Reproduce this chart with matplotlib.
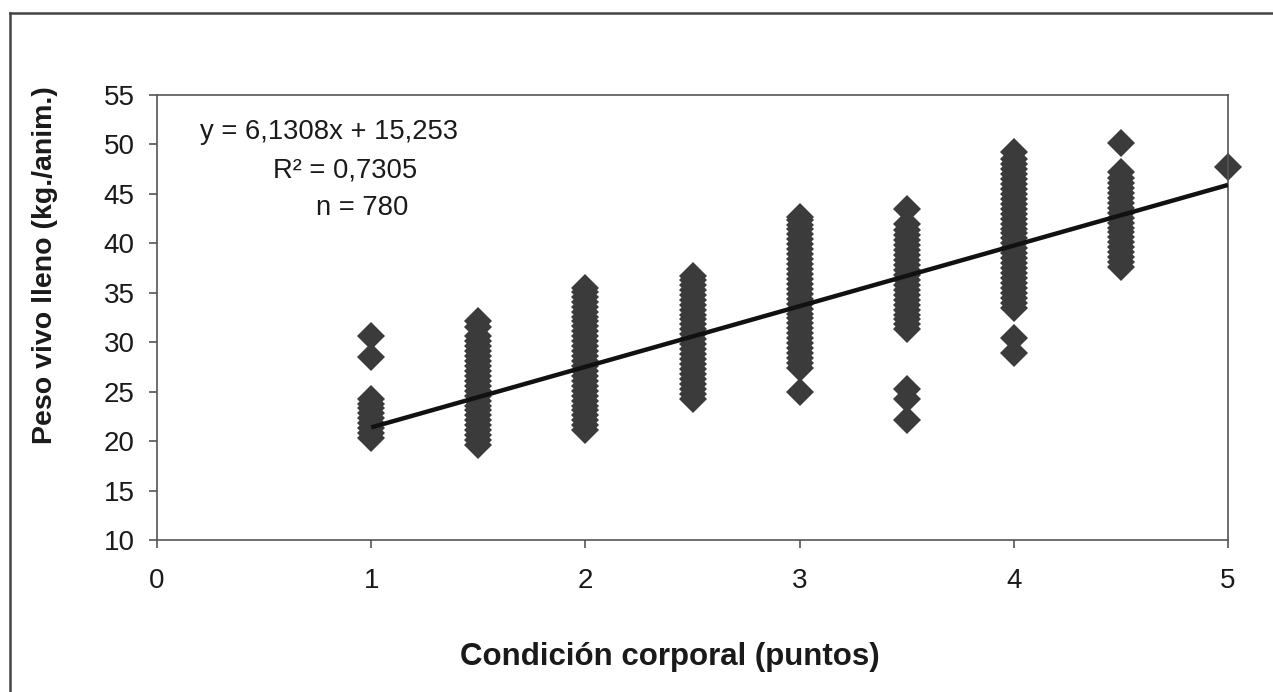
import numpy as np
import matplotlib
matplotlib.use("Agg")
import matplotlib.pyplot as plt
from matplotlib.lines import Line2D

plt.rcParams['font.family'] = ['Liberation Sans', 'DejaVu Sans']

# condición corporal groups and the peso vivo readings in each
peso_1 = [20.3, 20.8, 21.3, 21.8, 22.3, 22.8, 23.3, 23.8, 24.3, 28.5, 30.6]
peso_15 = [19.6, 20.1, 20.6, 21.1, 21.6, 22.1, 22.6, 23.1, 23.6, 24.1, 24.6, 25.1,
           25.6, 26.1, 26.6, 27.1, 27.6, 28.1, 28.6, 29.1, 29.6, 30.1, 30.6, 31.5, 32.1]
peso_2 = [21.1, 21.6, 22.1, 22.6, 23.1, 23.6, 24.1, 24.6, 25.1, 25.6, 26.1, 26.6,
          27.1, 27.6, 28.1, 28.6, 29.1, 29.6, 30.1, 30.6, 31.1, 31.6, 32.1, 32.6,
          33.1, 33.6, 34.1, 34.6, 35.1, 35.5]
peso_25 = [24.3, 24.8, 25.3, 25.8, 26.3, 26.8, 27.3, 27.8, 28.3, 28.8, 29.3, 29.8,
           30.3, 30.8, 31.3, 31.8, 32.3, 32.8, 33.3, 33.8, 34.3, 34.8, 35.3, 35.8,
           36.3, 36.7]
peso_3 = [25.0, 27.4, 27.9, 28.4, 28.9, 29.4, 29.9, 30.4, 30.9, 31.4, 31.9, 32.4,
          32.9, 33.4, 33.9, 34.4, 34.9, 35.4, 35.9, 36.4, 36.9, 37.4, 37.9, 38.4,
          38.9, 39.4, 39.9, 40.4, 40.9, 41.4, 41.9, 42.4, 42.7]
peso_35 = [22.1, 24.3, 25.3, 31.3, 31.8, 32.3, 32.8, 33.3, 33.8, 34.3, 34.8, 35.3,
           35.8, 36.3, 36.8, 37.3, 37.8, 38.3, 38.8, 39.3, 39.8, 40.3, 40.8, 41.3,
           42.0, 43.5]
peso_4 = [28.9, 30.4, 33.5, 34.0, 34.5, 35.0, 35.5, 36.0, 36.5, 37.0, 37.5, 38.0,
          38.5, 39.0, 39.5, 40.0, 40.5, 41.0, 41.5, 42.0, 42.5, 43.0, 43.5, 44.0,
          44.5, 45.0, 45.5, 46.0, 46.5, 47.0, 47.5, 48.0, 48.5, 49.2]
peso_45 = [37.6, 38.1, 38.6, 39.1, 39.6, 40.1, 40.6, 41.1, 41.6, 42.1, 42.6, 43.1,
           43.6, 44.1, 44.6, 45.1, 45.6, 46.1, 46.6, 47.2, 50.1]
peso_5 = [47.7]

condicion = [1, 1.5, 2, 2.5, 3, 3.5, 4, 4.5, 5]
grupos = [peso_1, peso_15, peso_2, peso_25, peso_3, peso_35, peso_4, peso_45, peso_5]

pendiente, intercepto = 6.1308, 15.253

fig = plt.figure(figsize=(12.73, 6.92), dpi=100)
ax = fig.add_axes([157 / 1273, 1 - 540 / 692, (1228 - 157) / 1273, (540 - 95) / 692])

xs = np.concatenate([[c] * len(g) for c, g in zip(condicion, grupos)])
ys = np.concatenate(grupos)
ax.plot(xs, ys, linestyle='none', marker='D', markersize=14.5,
        color='#3b3b3b', markeredgewidth=0, clip_on=False, zorder=2)

xl = np.array([1, 5])
ax.plot(xl, pendiente * xl + intercepto, color='#111111', linewidth=3.2, zorder=3,
        solid_capstyle='butt')

ax.set_xlim(0, 5)
ax.set_ylim(10, 55)
ax.set_xticks([0, 1, 2, 3, 4, 5])
ax.set_yticks(range(10, 60, 5))
ax.tick_params(axis='both', direction='out', length=6, width=1.2, color='#555555',
               labelsize=20, labelcolor='#1a1a1a')
ax.tick_params(axis='x', pad=14.5)
ax.tick_params(axis='y', pad=10)
for s in ax.spines.values():
    s.set_color('#555555')
    s.set_linewidth(1.2)

ax.set_xlabel('Condición corporal (puntos)', fontsize=22.5, fontweight='bold',
              color='#1a1a1a', va='center', ha='center')
ax.xaxis.set_label_coords(0.479, -0.263)
ax.set_ylabel('Peso vivo lleno (kg./anim.)', fontsize=20.5, fontweight='bold',
              color='#1a1a1a', va='center', ha='center')
ax.yaxis.set_label_coords(-0.1046, 0.618)

ax.text(0.2, 51.3, 'y = 6,1308x + 15,253', fontsize=19.7, va='center', ha='left',
        color='#1a1a1a')
ax.text(0.54, 47.4, 'R² = 0,7305', fontsize=19.7, va='center', ha='left',
        color='#1a1a1a')
ax.text(0.74, 43.6, 'n = 780', fontsize=19.7, va='center', ha='left',
        color='#1a1a1a')

# outer frame of the scanned figure
fig.add_artist(Line2D([10 / 1273, 10 / 1273], [0, 1 - 13 / 692], color='#444444',
                      linewidth=1.8, transform=fig.transFigure))
fig.add_artist(Line2D([10 / 1273, 1], [1 - 13 / 692, 1 - 13 / 692], color='#444444',
                      linewidth=1.8, transform=fig.transFigure))

fig.savefig('out.png', dpi=100)
